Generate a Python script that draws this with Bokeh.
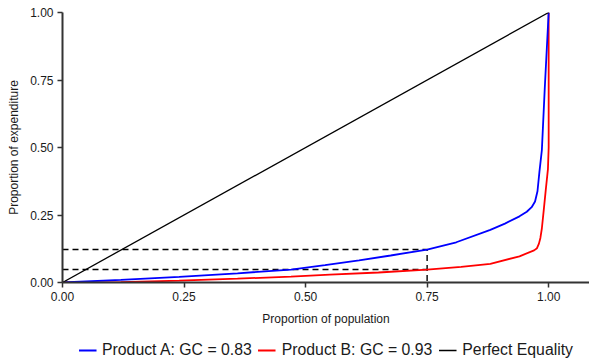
import numpy as np
from bokeh.plotting import figure
from bokeh.layouts import column
from bokeh.models import Range1d, FixedTicker, NumeralTickFormatter, Legend, LegendItem
from bokeh.embed import file_html
from bokeh.resources import INLINE

# ---- data ----
pop_a = [0.0, 0.12, 0.24, 0.36, 0.47, 0.54, 0.61, 0.675, 0.75, 0.81, 0.88, 0.91,
         0.94, 0.955, 0.965, 0.972, 0.977, 0.981, 0.986, 0.992, 1.0]
exp_a = [0.0, 0.010, 0.021, 0.034, 0.048, 0.064, 0.082, 0.100, 0.122, 0.149, 0.195,
         0.218, 0.245, 0.262, 0.279, 0.300, 0.338, 0.41, 0.49, 0.72, 1.0]

pop_b = [0.0, 0.06, 0.12, 0.24, 0.36, 0.47, 0.55, 0.65, 0.75, 0.82, 0.88, 0.94,
         0.97, 0.976, 0.98, 0.983, 0.986, 0.99, 0.994, 0.9985, 1.0, 1.0]
exp_b = [0.0, 0.0, 0.001, 0.007, 0.014, 0.022, 0.029, 0.037, 0.048, 0.058, 0.069,
         0.097, 0.119, 0.127, 0.144, 0.165, 0.2, 0.27, 0.342, 0.42, 0.5, 1.0]

pop_eq = [0.0, 1.0]
exp_eq = [0.0, 1.0]

ref_pop = 0.75  # population share marked by dashed guides

ticks = [0.0, 0.25, 0.5, 0.75, 1.0]
labels = ["Product A: GC = 0.83", "Product B: GC = 0.93", "Perfect Equality"]
x_title = "Proportion of population"
y_title = "Proportion of expenditure"

FONT = "Liberation Sans"
TXT = "#1a1a1a"
AX = "#333333"
COL_A = "#0000ff"
COL_B = "#ff0000"
COL_EQ = "black"

# ---------------- main plot ----------------
p = figure(width=589, height=336, x_range=Range1d(0, 1.084), y_range=Range1d(0, 1),
           output_backend="svg", toolbar_location=None,
           min_border_left=62, min_border_top=12, min_border_right=0, min_border_bottom=54)
p.outline_line_color = None
p.grid.visible = False
p.background_fill_color = "white"
p.border_fill_color = "white"

ya = float(np.interp(ref_pop, pop_a, exp_a))
yb = float(np.interp(ref_pop, pop_b, exp_b))
p.line([0, ref_pop, ref_pop], [ya, ya, 0], line_color="black", line_width=1.4, line_dash="6 4")
p.line([0, ref_pop], [yb, yb], line_color="black", line_width=1.4, line_dash="6 4")

p.line(pop_b, exp_b, line_color=COL_B, line_width=1.8)
p.line(pop_a, exp_a, line_color=COL_A, line_width=1.8)
p.line(pop_eq, exp_eq, line_color=COL_EQ, line_width=1.3)

for ax in (p.xaxis[0], p.yaxis[0]):
    ax.ticker = FixedTicker(ticks=ticks)
    ax.formatter = NumeralTickFormatter(format="0.00")
    ax.minor_tick_line_color = None
    ax.major_tick_in = 0
    ax.major_tick_out = 5
    ax.major_tick_line_width = 1.5
    ax.major_tick_line_color = AX
    ax.axis_line_width = 2
    ax.axis_line_color = AX
    ax.major_label_text_font = FONT
    ax.major_label_text_font_size = "12px"
    ax.major_label_text_color = TXT
    ax.axis_label_text_font = FONT
    ax.axis_label_text_font_size = "12px"
    ax.axis_label_text_font_style = "normal"
    ax.axis_label_text_color = TXT
    ax.major_label_standoff = 4

p.xaxis[0].axis_label_standoff = 8
p.yaxis[0].axis_label_standoff = 6
p.xaxis[0].axis_label = x_title
p.yaxis[0].axis_label = y_title

# ---------------- legend strip ----------------
lg = figure(width=589, height=28, x_range=Range1d(2, 3), y_range=Range1d(2, 3),
            output_backend="svg", toolbar_location=None,
            x_axis_location=None, y_axis_location=None,
            min_border_left=62, min_border_right=0, min_border_top=0, min_border_bottom=0)
lg.outline_line_color = None
lg.grid.visible = False
lg.background_fill_color = "white"
lg.border_fill_color = "white"

la = lg.line(pop_a, exp_a, line_color=COL_A, line_width=1.8)
lb = lg.line(pop_b, exp_b, line_color=COL_B, line_width=1.8)
le = lg.line(pop_eq, exp_eq, line_color=COL_EQ, line_width=1.3)

legend = Legend(items=[LegendItem(label=labels[0], renderers=[la]),
                       LegendItem(label=labels[1], renderers=[lb]),
                       LegendItem(label=labels[2], renderers=[le])],
                orientation="horizontal", location="center",
                padding=0, margin=0, spacing=6, label_standoff=6,
                glyph_width=18, glyph_height=18, label_height=18,
                label_text_font=FONT, label_text_font_size="15.8px",
                label_text_color=TXT,
                background_fill_alpha=0, border_line_alpha=0)
lg.add_layout(legend)

layout = column(p, lg, spacing=0)
open("out.html", "w").write(file_html(layout, INLINE))
